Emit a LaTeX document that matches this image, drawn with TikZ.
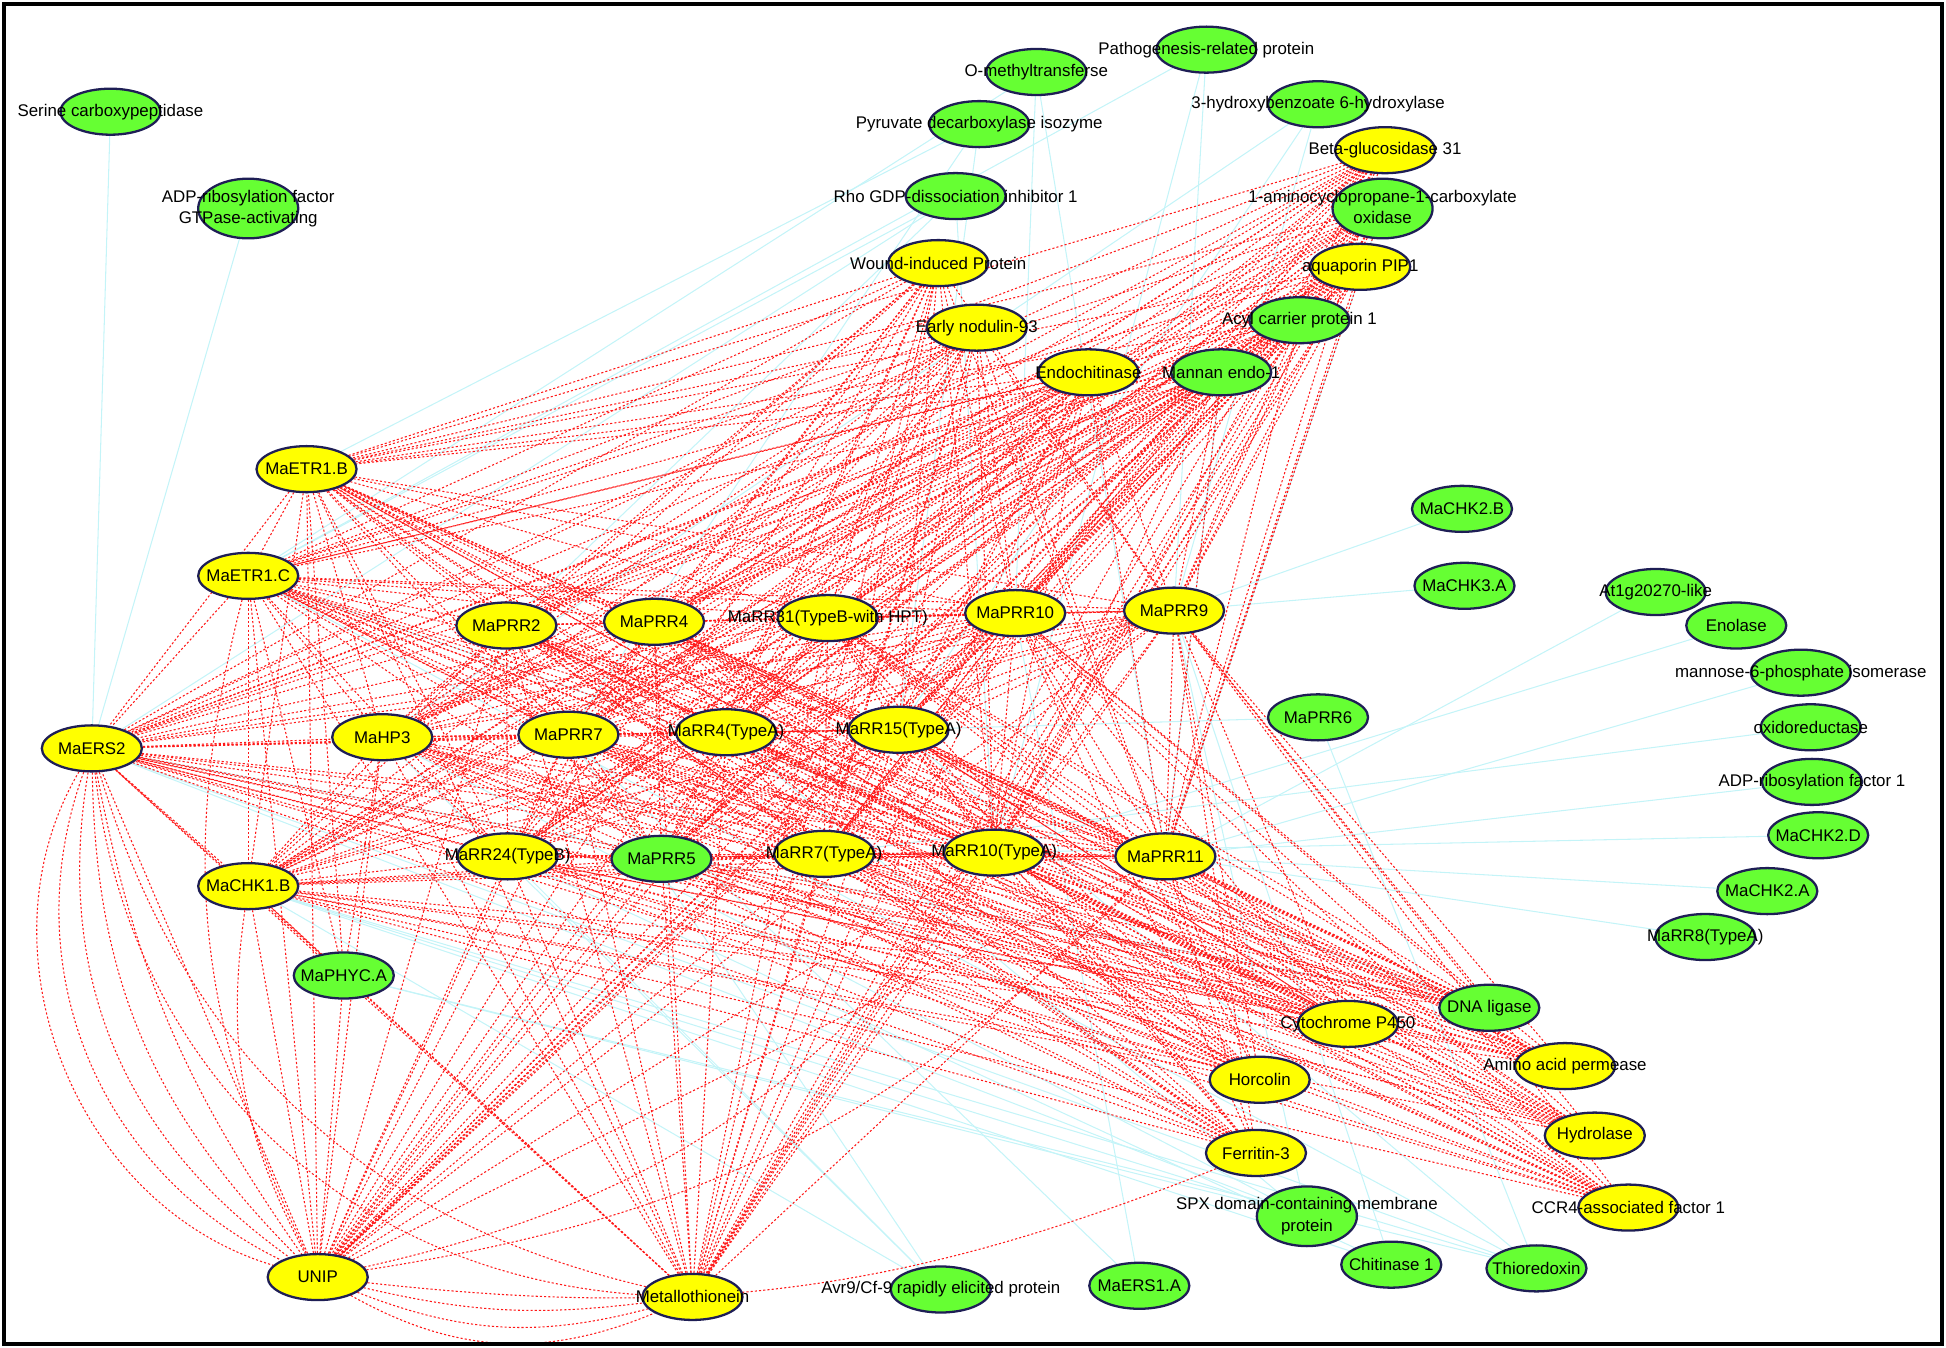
\documentclass[tikz,border=0pt]{standalone}
\usepackage{fontspec}
\setmainfont{Liberation Sans}
\usetikzlibrary{shapes.geometric,backgrounds}

\definecolor{geneyellow}{RGB}{255,255,0}
\definecolor{genegreen}{RGB}{102,255,51}
\definecolor{geneline}{RGB}{30,30,85}
\definecolor{linkcyan}{RGB}{196,244,248}

\newcommand{\lbl}[1]{\makebox[0pt]{#1}}
\newcommand{\lbltwo}[2]{\makebox[0pt]{\begin{tabular}{@{}c@{}}#1\\#2\end{tabular}}}

\begin{document}
\begin{tikzpicture}[
    x=0.01241cm, y=-0.01241cm,
    font=\fontsize{4.8}{6}\selectfont,
    gene/.style={ellipse, draw=geneline, line width=0.65pt, inner sep=0pt, minimum width=1cm, minimum height=0.46cm},
    yel/.style={gene, fill=geneyellow},
    grn/.style={gene, fill=genegreen},
    redlink/.style={red!90, line width=0.3pt, dash pattern=on 0.6pt off 0.6pt},
    cyanlink/.style={linkcyan, line width=0.3pt}
  ]

  \useasboundingbox (0,0) rectangle (1568,1086);
  \draw[line width=1.1pt] (3,3) rectangle (1565,1083);

  % --- Green genes ---
  \node[grn] (serine) at (89,90) {\lbl{Serine carboxypeptidase}};
  \node[grn] (adpgap) at (200,168) {\lbltwo{ADP-ribosylation factor}{GTPase-activating}};
  \node[grn] (patho) at (972,40) {\lbl{Pathogenesis-related protein}};
  \node[grn] (ometh) at (835,58) {\lbl{O-methyltransferse}};
  \node[grn] (pyru) at (789,100) {\lbl{Pyruvate decarboxylase isozyme}};
  \node[grn] (rho) at (770,158) {\lbl{Rho GDP-dissociation inhibitor 1}};
  \node[grn] (hydroxy) at (1062,84) {\lbl{3-hydroxybenzoate 6-hydroxylase}};
  \node[grn] (acc) at (1114,168) {\lbltwo{1-aminocyclopropane-1-carboxylate}{oxidase}};
  \node[grn] (acyl) at (1047,258) {\lbl{Acyl carrier protein 1}};
  \node[grn] (mannan) at (984,300) {\lbl{Mannan endo-1}};
  \node[grn] (chk2b) at (1178,410) {\lbl{MaCHK2.B}};
  \node[grn] (chk3a) at (1180,472) {\lbl{MaCHK3.A}};
  \node[grn] (at1g) at (1334,477) {\lbl{At1g20270-like}};
  \node[grn] (enol) at (1399,504) {\lbl{Enolase}};
  \node[grn] (mannose) at (1451,542) {\lbl{mannose-6-phosphate isomerase}};
  \node[grn] (oxido) at (1459,586) {\lbl{oxidoreductase}};
  \node[grn] (adp1) at (1460,630) {\lbl{ADP-ribosylation factor 1}};
  \node[grn] (chk2d) at (1465,673) {\lbl{MaCHK2.D}};
  \node[grn] (chk2a) at (1424,718) {\lbl{MaCHK2.A}};
  \node[grn] (rr8) at (1374,755) {\lbl{MaRR8(TypeA)}};
  \node[grn] (prr6) at (1062,578) {\lbl{MaPRR6}};
  \node[grn] (prr5) at (533,692) {\lbl{MaPRR5}};
  \node[grn] (phyc) at (277,786) {\lbl{MaPHYC.A}};
  \node[grn] (dnalig) at (1200,812) {\lbl{DNA ligase}};
  \node[grn] (spx) at (1053,980) {\lbltwo{SPX domain-containing membrane}{protein}};
  \node[grn] (chit) at (1121,1019) {\lbl{Chitinase 1}};
  \node[grn] (thio) at (1238,1022) {\lbl{Thioredoxin}};
  \node[grn] (ers1a) at (918,1036) {\lbl{MaERS1.A}};
  \node[grn] (avr9) at (758,1039) {\lbl{Avr9/Cf-9 rapidly elicited protein}};

  % --- Yellow genes ---
  \node[yel] (betaglu) at (1116,121) {\lbl{Beta-glucosidase 31}};
  \node[yel] (aqua) at (1096,215) {\lbl{aquaporin PIP1}};
  \node[yel] (wound) at (756,212) {\lbl{Wound-induced Protein}};
  \node[yel] (nodulin) at (787,264) {\lbl{Early nodulin-93}};
  \node[yel] (endochit) at (877,300) {\lbl{Endochitinase}};
  \node[yel] (etrB) at (247,378) {\lbl{MaETR1.B}};
  \node[yel] (etrC) at (200,464) {\lbl{MaETR1.C}};
  \node[yel] (prr2) at (408,504) {\lbl{MaPRR2}};
  \node[yel] (prr4) at (527,501) {\lbl{MaPRR4}};
  \node[yel] (rr31) at (667,498) {\lbl{MaRR31(TypeB-with HPT)}};
  \node[yel] (prr10) at (818,494) {\lbl{MaPRR10}};
  \node[yel] (prr9) at (946,492) {\lbl{MaPRR9}};
  \node[yel] (ers2) at (74,603) {\lbl{MaERS2}};
  \node[yel] (hp3) at (308,594) {\lbl{MaHP3}};
  \node[yel] (prr7) at (458,592) {\lbl{MaPRR7}};
  \node[yel] (rr4) at (585,590) {\lbl{MaRR4(TypeA)}};
  \node[yel] (rr15) at (724,588) {\lbl{MaRR15(TypeA)}};
  \node[yel] (rr24) at (409,690) {\lbl{MaRR24(TypeB)}};
  \node[yel] (rr7) at (664,688) {\lbl{MaRR7(TypeA)}};
  \node[yel] (rr10) at (801,687) {\lbl{MaRR10(TypeA)}};
  \node[yel] (prr11) at (939,690) {\lbl{MaPRR11}};
  \node[yel] (chk1b) at (200,714) {\lbl{MaCHK1.B}};
  \node[yel] (cyp) at (1086,825) {\lbl{Cytochrome P450}};
  \node[yel] (aap) at (1261,859) {\lbl{Amino acid permease}};
  \node[yel] (horco) at (1015,870) {\lbl{Horcolin}};
  \node[yel] (hydro) at (1285,915) {\lbl{Hydrolase}};
  \node[yel] (ferr) at (1012,929) {\lbl{Ferritin-3}};
  \node[yel] (ccr4) at (1312,973) {\lbl{CCR4-associated factor 1}};
  \node[yel] (unip) at (256,1029) {\lbl{UNIP}};
  \node[yel] (metal) at (558,1045) {\lbl{Metallothionein}};

  \def\midset{etrB,etrC,prr2,prr4,rr31,prr10,prr9,ers2,hp3,prr7,rr4,rr15,rr24,prr5,rr7,rr10,prr11,chk1b}
  \def\topset{wound,nodulin,endochit,mannan,acyl,aqua,acc,betaglu}
  \def\lowset{cyp,dnalig,aap,horco,hydro,ferr,ccr4,unip,metal}

  \begin{scope}[on background layer]
    % --- Cyan links ---
    \foreach \g/\t in {serine/ers2, adpgap/ers2, patho/prr9, patho/rr10, patho/etrC,
        ometh/prr10, ometh/prr11, ometh/etrC, pyru/rr15, pyru/prr7, pyru/etrB,
        rho/ers2, rho/etrC, rho/rr10, rho/prr2, hydroxy/prr9, hydroxy/rr15, hydroxy/hp3,
        acc/prr11, mannan/prr11, chk2b/prr9, chk3a/prr9, at1g/prr11, enol/rr10,
        mannose/prr11, oxido/rr7, adp1/prr11, chk2d/rr10, chk2a/prr11, rr8/prr11,
        prr6/thio, prr6/rr15, dnalig/etrC, dnalig/ers2, spx/ers2, spx/prr9, spx/rr4,
        spx/hp3, chit/prr9, chit/chk1b, chit/rr24, thio/rr15, thio/etrC, thio/ers2,
        ers1a/prr10, ers1a/prr7, avr9/prr7, avr9/chk1b, avr9/rr24, avr9/hp3,
        phyc/spx, phyc/thio, chk1b/thio, chk1b/spx}
      \draw[cyanlink] (\g) -- (\t);

    % --- Red links ---
    \foreach \a [count=\ci] in \midset {
      \foreach \b [count=\cj] in \midset {
        \ifnum\cj>\ci \draw[redlink] (\a) -- (\b); \fi
      }
    }
    \foreach \a in \topset {
      \foreach \b in \midset
        \draw[redlink] (\a) -- (\b);
      \draw[redlink] (\a) -- (unip);
      \draw[redlink] (\a) -- (metal);
    }
    \foreach \a in \lowset {
      \foreach \b in \midset
        \draw[redlink] (\a) -- (\b);
    }
    \foreach \b in {etrB,etrC,ers2,hp3,chk1b,unip,metal}
      \draw[redlink] (phyc) -- (\b);

    % --- Curved links ---
    \foreach \bnd in {12,22,32,42,52}
      \draw[redlink] (ers2) to[bend right=\bnd] (unip);
    \foreach \bnd in {10,18,26}
      \draw[redlink] (unip) to[bend right=\bnd] (metal);
    \draw[redlink] (ers2) to[bend right=30] (metal);
    \draw[redlink] (ers2) to[bend right=40] (metal);
    \draw[redlink] (etrC) to[bend right=20] (unip);
    \draw[redlink] (chk1b) to[bend right=18] (unip);
    \draw[redlink] (unip) to[bend right=20] (rr10);
    \draw[redlink] (unip) to[bend right=18] (prr11);
    \draw[redlink] (unip) to[bend right=14] (ferr);
  \end{scope}

\end{tikzpicture}
\end{document}
